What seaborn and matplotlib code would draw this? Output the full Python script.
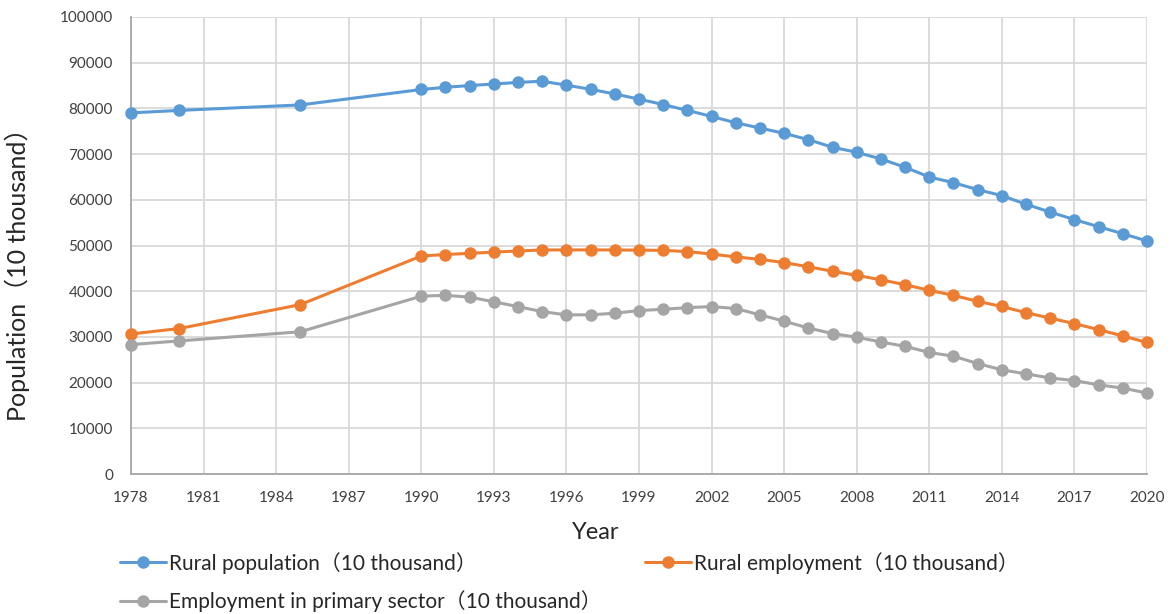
import matplotlib
matplotlib.use("Agg")
import matplotlib.pyplot as plt
import seaborn as sns
import pandas as pd

# Years with observations
years = [1978, 1980, 1985] + list(range(1990, 2021))

# Values in units of 10 thousand people
rural_population = [79014, 79565, 80757,
                    84138, 84620, 84996, 85344, 85681, 85947, 85085, 84177, 83153, 82038,
                    80837, 79563, 78241, 76851, 75705, 74544, 73160, 71496, 70399, 68938,
                    67113, 64989, 63747, 62224, 60908, 59024, 57308, 55668, 54108, 52582,
                    50992]
rural_employment = [30638, 31836, 37065,
                    47708, 48026, 48291, 48546, 48802, 49025, 49028, 49039, 49021, 48982,
                    48934, 48674, 48121, 47506, 46971, 46258, 45348, 44368, 43461, 42506,
                    41418, 40193, 39099, 37774, 36653, 35300, 34100, 32900, 31600, 30200,
                    28793]
primary_employment = [28318, 29122, 31130,
                      38914, 39098, 38699, 37680, 36628, 35530, 34820, 34840, 35177, 35768,
                      36043, 36399, 36640, 36204, 34830, 33442, 31941, 30731, 29923, 28890,
                      27931, 26594, 25773, 24171, 22790, 21919, 21000, 20450, 19500, 18800,
                      17715]

series_names = ["Rural population（10 thousand）",
                "Rural employment（10 thousand）",
                "Employment in primary sector（10 thousand）"]
colors = ["#5B9BD5", "#ED7D31", "#A5A5A5"]

x_ticks = list(range(1978, 2021, 3))
y_ticks = list(range(0, 100001, 10000))

sns.set_theme(style="white")
plt.rcParams["font.family"] = ["Lato", "Noto Sans CJK SC", "DejaVu Sans"]

fig = plt.figure(figsize=(11.76, 6.14), dpi=100)
ax = fig.add_axes([131 / 1176, 1 - 474 / 614, (1147 - 131) / 1176, (474 - 17) / 614])

df = pd.DataFrame({
    "Year": years * 3,
    "Value": rural_population + rural_employment + primary_employment,
    "Series": [series_names[0]] * len(years) + [series_names[1]] * len(years)
              + [series_names[2]] * len(years),
})

for name, col in zip(series_names, colors):
    sub = df[df["Series"] == name]
    sns.lineplot(data=sub, x="Year", y="Value", ax=ax, color=col, marker="o",
                 markersize=9, markeredgewidth=0, linewidth=2.2, label=name,
                 legend=False, zorder=3, clip_on=False)

ax.set_xlim(1978, 2020)
ax.set_ylim(0, 100000)
ax.set_xticks(x_ticks)
ax.set_yticks(y_ticks)
ax.grid(True, color="#d9d9d9", linewidth=1.3, zorder=0)
ax.set_axisbelow(True)
for side in ["top", "right"]:
    ax.spines[side].set_visible(False)
ax.spines["left"].set_color("#a6a6a6")
ax.spines["bottom"].set_color("#a6a6a6")
ax.spines["left"].set_linewidth(1.3)
ax.spines["bottom"].set_linewidth(1.3)
ax.tick_params(axis="both", length=0, labelsize=11, colors="#404040")
ax.tick_params(axis="y", pad=13)
ax.tick_params(axis="x", pad=12)

ax.set_xlabel("Year", fontsize=17, color="#262626")
ax.xaxis.set_label_coords(0.457, -0.105)
ax.set_ylabel("Population（10 thousand）", fontsize=18, color="#262626")
ax.yaxis.set_label_coords(-0.0995, 0.45)

handles, labels = ax.get_legend_handles_labels()
order = [0, 2, 1]
leg = fig.legend([handles[i] for i in order], [labels[i] for i in order],
                 loc="upper left", bbox_to_anchor=(0.095, 0.115), ncol=2,
                 frameon=False, fontsize=15, handlelength=2.2, handletextpad=0.15,
                 columnspacing=2.1, labelspacing=0.82, borderaxespad=0)
for t in leg.get_texts():
    t.set_color("#262626")

fig.savefig("out.png", dpi=100)
